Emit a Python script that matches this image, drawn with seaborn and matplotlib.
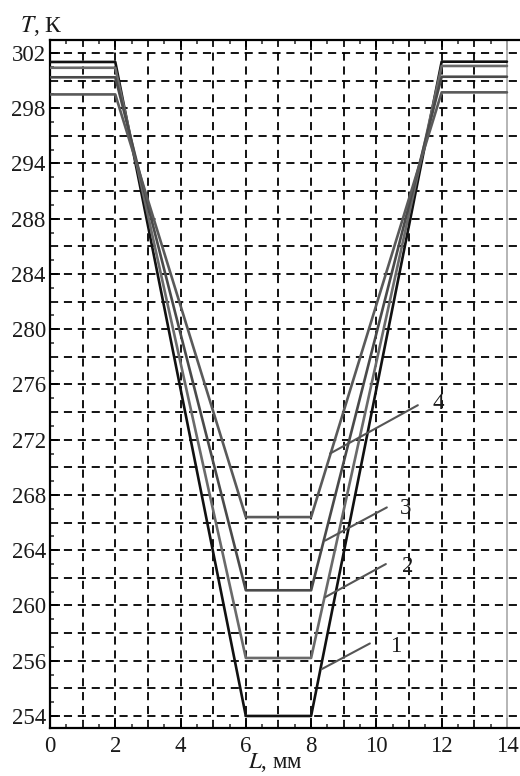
import numpy as np
import pandas as pd
import matplotlib
matplotlib.use("Agg")
import matplotlib.pyplot as plt
import seaborn as sns

# ---- data (y in axis units of the evenly spaced grid) ----
L_mm = [0, 2, 6, 8, 12, 14]
T_curve1 = [301.35, 301.35, 254.0, 254.0, 301.37, 301.37]
T_curve2 = [300.93, 300.93, 258.2, 258.2, 301.06, 301.06]
T_curve3 = [300.24, 300.24, 263.1, 263.1, 300.28, 300.28]
T_curve4 = [299.0, 299.0, 268.4, 268.4, 299.15, 299.15]
curve_names = ["1", "2", "3", "4"]

y_tick_pos = [302, 298, 294, 290, 286, 282, 278, 274, 270, 266, 262, 258, 254]
y_tick_labels = ["302", "298", "294", "288", "284", "280", "276", "272",
                 "268", "264", "260", "256", "254"]
x_ticks = [0, 2, 4, 6, 8, 10, 12, 14]

# leader lines for curve labels
lbl_x0 = [8.33, 8.43, 8.43, 8.58]
lbl_y0 = [257.4, 262.6, 266.7, 273.0]
lbl_x1 = [9.80, 10.29, 10.32, 11.27]
lbl_y1 = [259.25, 265.0, 269.1, 276.5]
lbl_tx = [10.58, 10.97, 10.88, 11.89]
lbl_ty = [259.0, 264.8, 269.0, 276.6]

rows = []
for name, ys in zip(curve_names, [T_curve1, T_curve2, T_curve3, T_curve4]):
    for i, (x, y) in enumerate(zip(L_mm, ys)):
        rows.append({"curve": name, "L": x, "T": y, "order": i})
df = pd.DataFrame(rows)

sns.set_style("white")
plt.rcParams["font.family"] = ["Liberation Serif", "DejaVu Serif"]
plt.rcParams["mathtext.fontset"] = "stix"

fig = plt.figure(figsize=(5.2, 7.76), dpi=100)
ax = fig.add_axes([50 / 520, 48 / 776, 470 / 520, 688 / 776])

palette = {"1": "#111111", "2": "#6a6a6a", "3": "#4a4a4a", "4": "#5a5a5a"}
sns.lineplot(data=df, x="L", y="T", hue="curve", units="curve", estimator=None,
             sort=False, palette=palette, linewidth=1.9, legend=False, ax=ax,
             zorder=3)

ax.set_xlim(0, 14.4)
ax.set_ylim(253.13, 302.94)

# ticks
ax.xaxis.set_major_locator(matplotlib.ticker.FixedLocator(x_ticks))
ax.xaxis.set_minor_locator(matplotlib.ticker.FixedLocator(list(range(1, 14, 2))))
ax.set_xticklabels([str(v) for v in x_ticks])
ax.yaxis.set_major_locator(matplotlib.ticker.FixedLocator(y_tick_pos))
ax.yaxis.set_minor_locator(matplotlib.ticker.FixedLocator(list(range(256, 302, 4))))
ax.set_yticklabels(y_tick_labels)

ax.tick_params(axis="both", which="major", direction="in", length=7, width=1.3,
               labelsize=16.5, color="black", labelcolor="#1a1a1a")
ax.tick_params(axis="both", which="minor", direction="in", length=5, width=1.2)
ax.tick_params(axis="x", which="both", top=True, bottom=True, pad=6)
ax.tick_params(axis="y", which="both", left=True, right=False, pad=3)

ax.grid(True, which="both", color="black", linestyle=(0, (4.5, 3.2)), linewidth=1.3)
for t in ax.xaxis.get_major_ticks():
    if abs(t.get_loc() - 14) < 1e-6:
        t.gridline.set_visible(False)
for t in ax.xaxis.get_major_ticks():
    if abs(t.get_loc() - 0) < 1e-6:
        t.gridline.set_visible(False)

# small half ticks
for side in ["top", "bottom"]:
    sec = ax.secondary_xaxis(side)
    sec.set_xticks(np.arange(0.5, 14.5, 1.0))
    sec.tick_params(direction="in", length=3, width=1.1, labeltop=False, labelbottom=False)
    sec.spines[side].set_visible(False)
secy = ax.secondary_yaxis("left")
secy.set_yticks(np.arange(255, 302, 2.0))
secy.tick_params(direction="in", length=3, width=1.1, labelleft=False)
secy.spines["left"].set_visible(False)

for s in ["left", "bottom", "top"]:
    ax.spines[s].set_color("black")
    ax.spines[s].set_linewidth(1.6)
ax.spines["right"].set_visible(False)

ax.axvline(14, color="#b0b0b0", linewidth=1.3, zorder=2)

ax.set_xlabel("")
ax.set_ylabel("")

# curve labels with leader lines
for i, name in enumerate(curve_names):
    ax.plot([lbl_x0[i], lbl_x1[i]], [lbl_y0[i], lbl_y1[i]], color="#555555",
            linewidth=1.5, zorder=4)
    ax.text(lbl_tx[i], lbl_ty[i], name, fontsize=16.5, ha="center", va="center",
            color="#1a1a1a", zorder=5)

fig.text(20 / 520, 1 - 32 / 776, "$T$, К", fontsize=17, ha="left", va="baseline",
         color="#1a1a1a")
fig.text(248 / 520, 1 - 768 / 776, "$L$, мм", fontsize=16.5, ha="left", va="baseline",
         color="#1a1a1a")

fig.savefig("out.png", dpi=100)
